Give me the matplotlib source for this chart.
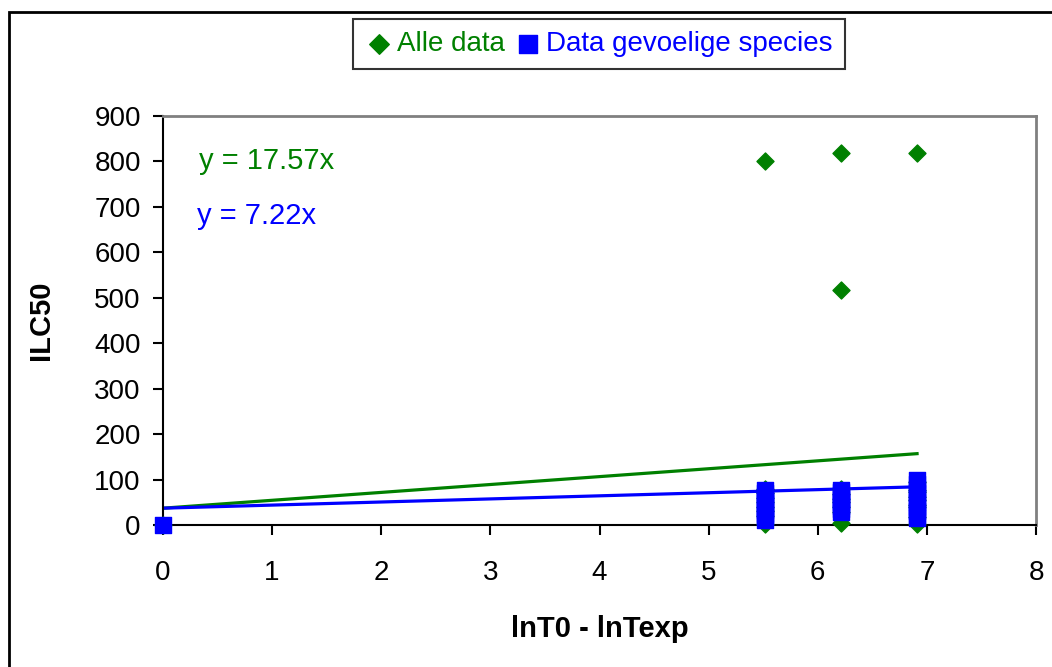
import matplotlib
matplotlib.use("Agg")
import matplotlib.pyplot as plt
from matplotlib.patches import Rectangle

plt.rcParams["font.family"] = ["Liberation Sans", "DejaVu Sans"]

GREEN = "#008000"
BLUE = "#0000FF"

# ── Data ───────────────────────────────────────────────────────────────────────
# all data (green diamonds)
all_x = [0.0,
         5.52, 5.52, 5.52, 5.52, 5.52, 5.52, 5.52, 5.52, 5.52,
         6.21, 6.21, 6.21, 6.21, 6.21, 6.21, 6.21, 6.21, 6.21,
         6.91, 6.91, 6.91, 6.91, 6.91, 6.91, 6.91, 6.91, 6.91, 6.91]
all_y = [0,
         800, 3, 20, 30, 40, 50, 60, 70, 80,
         818, 518, 5, 28, 40, 50, 58, 68, 80,
         818, 3, 18, 40, 45, 55, 62, 72, 78, 95]

# sensitive species (blue squares)
sens_x = [0.0,
          5.52, 5.52, 5.52, 5.52, 5.52, 5.52, 5.52, 5.52, 5.52, 5.52,
          6.21, 6.21, 6.21, 6.21, 6.21, 6.21, 6.21, 6.21,
          6.91, 6.91, 6.91, 6.91, 6.91, 6.91, 6.91, 6.91, 6.91, 6.91]
sens_y = [0,
          12, 18, 25, 32, 40, 48, 55, 62, 70, 77,
          29, 35, 42, 50, 57, 65, 72, 77,
          15, 22, 30, 40, 50, 60, 70, 80, 90, 99]

# trend lines as drawn (start / end)
trend_x = [0.0, 6.91]
trend_all_y = [37, 157]
trend_sens_y = [37, 84]

# ── Figure ─────────────────────────────────────────────────────────────────────
fig = plt.figure(figsize=(10.52, 6.67), dpi=100)
ax = fig.add_axes([163 / 1052, 1 - 525 / 667, (1036 - 163) / 1052, (525 - 116) / 667])

ax.plot(trend_x, trend_all_y, color=GREEN, lw=2.3, zorder=2)
ax.plot(trend_x, trend_sens_y, color=BLUE, lw=2.3, zorder=2)

ax.scatter(all_x, all_y, marker="D", s=75, color=GREEN, zorder=3,
           label="Alle data", clip_on=False)
ax.scatter(sens_x, sens_y, marker="s", s=130, color=BLUE, zorder=4,
           label="Data gevoelige species", clip_on=False)

ax.set_xlim(0, 8)
ax.set_ylim(0, 900)
ax.set_xticks(range(0, 9))
ax.set_yticks(range(0, 901, 100))
ax.tick_params(direction="out", length=7, width=1.5, labelsize=20)
ax.tick_params(axis="x", pad=18)
ax.tick_params(axis="y", pad=9)

for side in ["left", "bottom"]:
    ax.spines[side].set_color("black")
    ax.spines[side].set_linewidth(1.5)
for side in ["top", "right"]:
    ax.spines[side].set_color("#808080")
    ax.spines[side].set_linewidth(2)

ax.set_xlabel("lnT0 - lnTexp", fontsize=21, fontweight="bold", labelpad=21)
ax.set_ylabel("ILC50", fontsize=21, fontweight="bold", labelpad=28)

ax.text(0.33, 800, "y = 17.57x", color=GREEN, fontsize=21, va="center")
ax.text(0.31, 680, "y = 7.22x", color=BLUE, fontsize=21, va="center")

leg = fig.legend(loc="center", bbox_to_anchor=(599 / 1052, 1 - 44 / 667),
                 ncol=2, fontsize=20, frameon=True, fancybox=False,
                 handletextpad=0.15, columnspacing=0.35, borderpad=0.42,
                 handlelength=1.0, markerscale=1.15)
leg.get_frame().set_edgecolor("black")
leg.get_frame().set_linewidth(1.5)
for txt, c in zip(leg.get_texts(), [GREEN, BLUE]):
    txt.set_color(c)

# outer chart border (clipped at right and bottom)
fig.patches.append(Rectangle((9 / 1052, -0.1), 1.2, 1 - 12 / 667 + 0.1,
                             transform=fig.transFigure, fill=False,
                             edgecolor="black", linewidth=2, clip_on=False))

fig.savefig("out.png", dpi=100)
